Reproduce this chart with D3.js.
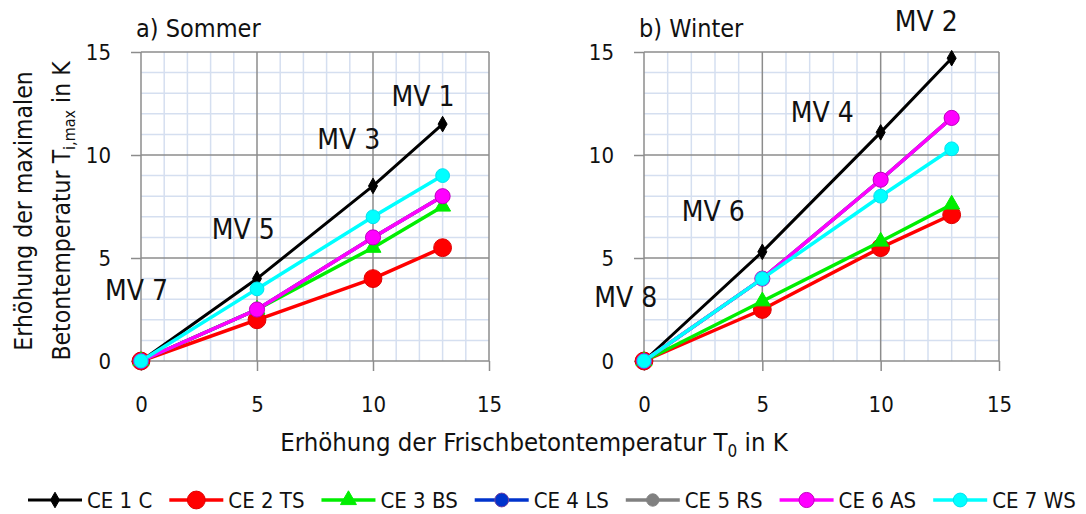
<!DOCTYPE html>
<html>
<head>
<meta charset="utf-8">
<script src="https://cdn.jsdelivr.net/npm/d3@7"></script>
<style>
  body { margin: 0; background: #fff; }
  svg text { font-family: "DejaVu Sans Condensed", "DejaVu Sans", sans-serif; fill: #111; }
</style>
</head>
<body>
<div id="chart"></div>
<script>
// x values (Erhöhung der Frischbetontemperatur T0 in K)
let xValues = [0, 5, 10, 13];

let seriesNames = ["CE 1 C", "CE 2 TS", "CE 3 BS", "CE 4 LS", "CE 5 RS", "CE 6 AS", "CE 7 WS"];

// a) Sommer
let sommer1 = [0, 4.0, 8.5, 11.5];
let sommer2 = [0, 2.0, 4.0, 5.5];
let sommer3 = [0, 2.5, 5.5, 7.5];
let sommer4 = [0, 2.5, 6.0, 8.0];
let sommer5 = [0, 2.5, 6.0, 8.0];
let sommer6 = [0, 2.5, 6.0, 8.0];
let sommer7 = [0, 3.5, 7.0, 9.0];

// b) Winter
let winter1 = [0, 5.3, 11.1, 14.7];
let winter2 = [0, 2.5, 5.5, 7.1];
let winter3 = [0, 2.9, 5.8, 7.6];
let winter4 = [0, 4.0, 8.8, 11.8];
let winter5 = [0, 4.0, 8.8, 11.8];
let winter6 = [0, 4.0, 8.8, 11.8];
let winter7 = [0, 4.0, 8.0, 10.3];

let tickValues = [0, 5, 10, 15];

// MV annotations (data coordinates of the text's left baseline)
let labelsSommer = [
  {text: "MV 1", x: 10.8, y: 12.4},
  {text: "MV 3", x: 7.6, y: 10.3},
  {text: "MV 5", x: 3.05, y: 5.9},
  {text: "MV 7", x: -1.55, y: 2.95}
];
let labelsWinter = [
  {text: "MV 2", x: 10.6, y: 16.0},
  {text: "MV 4", x: 6.2, y: 11.6},
  {text: "MV 6", x: 1.6, y: 6.8},
  {text: "MV 8", x: -2.1, y: 2.6}
];

let styles = [
  {color: "#000000", width: 3, symbol: d3.symbolDiamond, size: 70, stroke: "#000000"},
  {color: "#ff0000", width: 3.5, symbol: d3.symbolCircle, size: 250, stroke: "#e00000"},
  {color: "#00ee00", width: 3.5, symbol: d3.symbolTriangle, size: 110, stroke: "#00ee00"},
  {color: "#0033cc", width: 3.5, symbol: d3.symbolCircle, size: 150, stroke: "#7040a0"},
  {color: "#808080", width: 3.5, symbol: d3.symbolCircle, size: 120, stroke: "#808080"},
  {color: "#ff00ff", width: 3.5, symbol: d3.symbolCircle, size: 180, stroke: "#c000c0"},
  {color: "#00ffff", width: 3.5, symbol: d3.symbolCircle, size: 150, stroke: "#00e0f0"}
];

let width = 1086, height = 514;
let svg = d3.select("#chart").append("svg")
  .attr("width", width)
  .attr("height", height);

let y = d3.scaleLinear().domain([0, 15]).range([361, 52]);

function drawPanel(x, series, labels, title) {
  let g = svg.append("g");

  // minor grid
  let minor = d3.range(1, 15).filter((d) => d % 5 !== 0);
  g.append("g").selectAll("line.vx").data(minor).enter().append("line")
    .attr("x1", (d) => x(d)).attr("x2", (d) => x(d))
    .attr("y1", y(0)).attr("y2", y(15))
    .attr("stroke", "#d5dff0").attr("stroke-width", 1.5);
  g.append("g").selectAll("line.hy").data(minor).enter().append("line")
    .attr("y1", (d) => y(d)).attr("y2", (d) => y(d))
    .attr("x1", x(0)).attr("x2", x(15))
    .attr("stroke", "#d5dff0").attr("stroke-width", 1.5);

  // major grid
  g.append("g").selectAll("line").data(tickValues).enter().append("line")
    .attr("x1", (d) => x(d)).attr("x2", (d) => x(d))
    .attr("y1", y(0)).attr("y2", y(15))
    .attr("stroke", "#8c8c8c").attr("stroke-width", 1.5);
  g.append("g").selectAll("line").data(tickValues).enter().append("line")
    .attr("y1", (d) => y(d)).attr("y2", (d) => y(d))
    .attr("x1", x(0)).attr("x2", x(15))
    .attr("stroke", "#8c8c8c").attr("stroke-width", 1.5);

  // axes
  let xAxis = g.append("g")
    .attr("transform", "translate(0," + y(0) + ")")
    .call(d3.axisBottom(x).tickValues(tickValues).tickSize(10).tickPadding(34).tickSizeOuter(0));
  let yAxis = g.append("g")
    .attr("transform", "translate(" + x(0) + ",0)")
    .call(d3.axisLeft(y).tickValues(tickValues).tickSize(10).tickPadding(20).tickSizeOuter(0));
  [xAxis, yAxis].forEach((a) => {
    a.select(".domain").remove();
    a.selectAll(".tick line").attr("stroke", "#8c8c8c").attr("stroke-width", 1.5);
    a.selectAll(".tick text")
      .style("font-family", "'DejaVu Sans Condensed', sans-serif")
      .style("font-size", "22px").style("fill", "#111");
  });
  xAxis.selectAll(".tick text").attr("dy", "0.32em");

  // series
  let line = d3.line().x((d) => x(d[0])).y((d) => y(d[1]));
  series.forEach((vals, i) => {
    let pts = xValues.map((xv, j) => [xv, vals[j]]);
    let s = styles[i];
    let sg = g.append("g");
    sg.append("path").datum(pts)
      .attr("d", line)
      .attr("fill", "none")
      .attr("stroke", s.color)
      .attr("stroke-width", s.width)
      .attr("stroke-linejoin", "round");
    sg.selectAll("path.pt").data(pts).enter().append("path")
      .attr("class", "pt")
      .attr("transform", (d) => "translate(" + x(d[0]) + "," + y(d[1]) + ")")
      .attr("d", d3.symbol().type(s.symbol).size(s.size))
      .attr("fill", s.color)
      .attr("stroke", s.stroke)
      .attr("stroke-width", 1);
  });

  // MV annotations
  g.selectAll("text.mv").data(labels).enter().append("text")
    .attr("class", "mv")
    .attr("x", (d) => x(d.x))
    .attr("y", (d) => y(d.y))
    .style("font-size", "28px")
    .text((d) => d.text);

  g.append("text")
    .attr("x", x(0) - 5)
    .attr("y", 37)
    .style("font-size", "25px")
    .text(title);
}

let xLeft = d3.scaleLinear().domain([0, 15]).range([141, 489]);
let xRight = d3.scaleLinear().domain([0, 15]).range([644, 999]);

drawPanel(xLeft, [sommer1, sommer2, sommer3, sommer4, sommer5, sommer6, sommer7], labelsSommer, "a) Sommer");
drawPanel(xRight, [winter1, winter2, winter3, winter4, winter5, winter6, winter7], labelsWinter, "b) Winter");

// axis titles
let xt = svg.append("text")
  .attr("x", 534).attr("y", 451)
  .attr("text-anchor", "middle")
  .style("font-size", "25.5px");
xt.append("tspan").text("Erhöhung der Frischbetontemperatur T");
xt.append("tspan").attr("dy", 6).style("font-size", "17px").text("0");
xt.append("tspan").attr("dy", -6).text(" in K");

let yt = svg.append("g").attr("transform", "translate(32,211) rotate(-90)");
yt.append("text").attr("text-anchor", "middle").style("font-size", "24.5px")
  .text("Erhöhung der maximalen");
let yt2 = yt.append("text").attr("text-anchor", "middle").attr("y", 38).style("font-size", "24.5px");
yt2.append("tspan").text("Betontemperatur T");
yt2.append("tspan").attr("dy", 5).style("font-size", "16px").text("i,max");
yt2.append("tspan").attr("dy", -5).text(" in K");

// legend
let legend = svg.append("g").attr("class", "legend");
let lx = 28;
seriesNames.forEach((name, i) => {
  let s = styles[i];
  let item = legend.append("g").attr("transform", "translate(" + lx + ",500)");
  item.append("line").attr("x1", 0).attr("x2", 54).attr("y1", 0).attr("y2", 0)
    .attr("stroke", s.color).attr("stroke-width", s.width);
  item.append("path")
    .attr("transform", "translate(27,0)")
    .attr("d", d3.symbol().type(s.symbol).size(s.size))
    .attr("fill", s.color).attr("stroke", s.stroke).attr("stroke-width", 1);
  let t = item.append("text").attr("x", 59).attr("y", 0).attr("dy", "0.36em")
    .style("font-size", "22px").text(name);
  lx += 59 + t.node().getComputedTextLength() + 17;
});
</script>
</body>
</html>
